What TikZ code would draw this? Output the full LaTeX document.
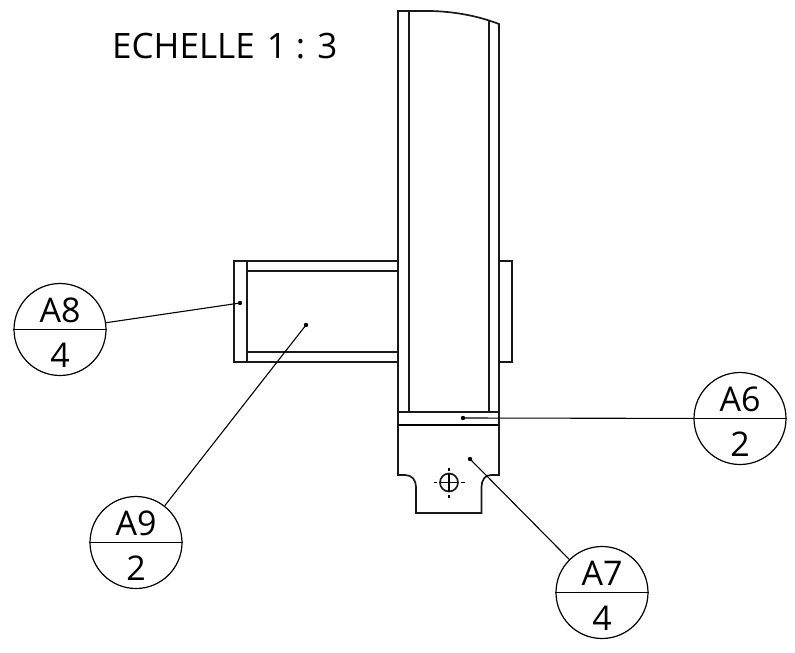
\documentclass[tikz,border=0pt]{standalone}
\usepackage{fontspec}
\setmainfont{Open Sans}
\tikzset{
  px/.style={x=1pt,y=-1pt},
  part/.style={line width=1.7pt,black!90,line join=miter},
  heavy/.style={line width=2.4pt,black},
  leader/.style={line width=1.1pt,black},
  bubble/.style={circle,draw,line width=1.2pt,minimum size=92pt,inner sep=0pt},
  dotmark/.style={circle,fill=black,minimum size=4.4pt,inner sep=0pt},
  btext/.style={font=\fontsize{34}{38}\selectfont,inner sep=0pt},
  centermark/.style={line width=1.2pt,black}
}
\newcommand{\balloon}[4]{%
  \node[bubble] (#1) at (#2) {};
  \draw[line width=1.2pt] (#1.west) -- (#1.east);
  \node[btext] (#1top) at ([yshift=19pt]#1.center) {#3};
  \node[btext] (#1bot) at ([yshift=-26pt]#1.center) {#4};
}
\begin{document}
\begin{tikzpicture}[px]
\useasboundingbox (0,0) rectangle (795,653);
\node[anchor=west,inner sep=0pt,font=\fontsize{35}{40}\selectfont] (title) at (112,46) {ECHELLE\hspace{12pt}1 : 3};
% main body
\draw[part] (398,425) -- (398,11) -- (430,11) .. controls (455,11.5) and (478,16) .. (499,24) -- (499,425);
\draw[part] (409,412) -- (409,11);
\draw[part] (489,412) -- (489,21);
% left tube
\draw[part] (398,261) -- (234,261) -- (234,362) -- (398,362);
\draw[part] (247,261) -- (247,362);
\draw[part] (247,271) -- (398,271);
\draw[part] (247,352) -- (398,352);
% right plate
\draw[part] (499,261) -- (512,261) -- (512,362) -- (499,362);
% bottom
\draw[part] (398,412) -- (499,412);
\draw[heavy] (398,425) -- (499,425);
\draw[part] (398,425) -- (398,475) -- (405,475) .. controls (412,475) and (416,480) .. (416,487) -- (416,513) -- (481.5,513) -- (481.5,487) .. controls (481.5,480) and (485,475) .. (491,475) -- (499,475) -- (499,425);
% hole
\draw[part] (449,482.5) circle (9);
\draw[centermark] (440,482.5) -- (458,482.5) (449,473.5) -- (449,491.5);
\draw[centermark] (433.5,482.5) -- (437,482.5) (461,482.5) -- (464.5,482.5) (449,467.5) -- (449,471) (449,494.5) -- (449,498);
% balloons
\balloon{aeight}{60,329.5}{A8}{4}
\balloon{anine}{136,542.5}{A9}{2}
\balloon{asix}{740,418.5}{A6}{2}
\balloon{aseven}{602,592.5}{A7}{4}
% leaders
\node[dotmark] (d8) at (240,303) {};
\node[dotmark] (d9) at (306,325) {};
\node[dotmark] (d6) at (463,418) {};
\node[dotmark] (d7) at (470,459) {};
\draw[leader] (d8.center) -- (aeight);
\draw[leader] (d9.center) -- (anine);
\draw[leader] (d6.center) -- (asix);
\draw[leader] (d7.center) -- (aseven);
\end{tikzpicture}
\end{document}
